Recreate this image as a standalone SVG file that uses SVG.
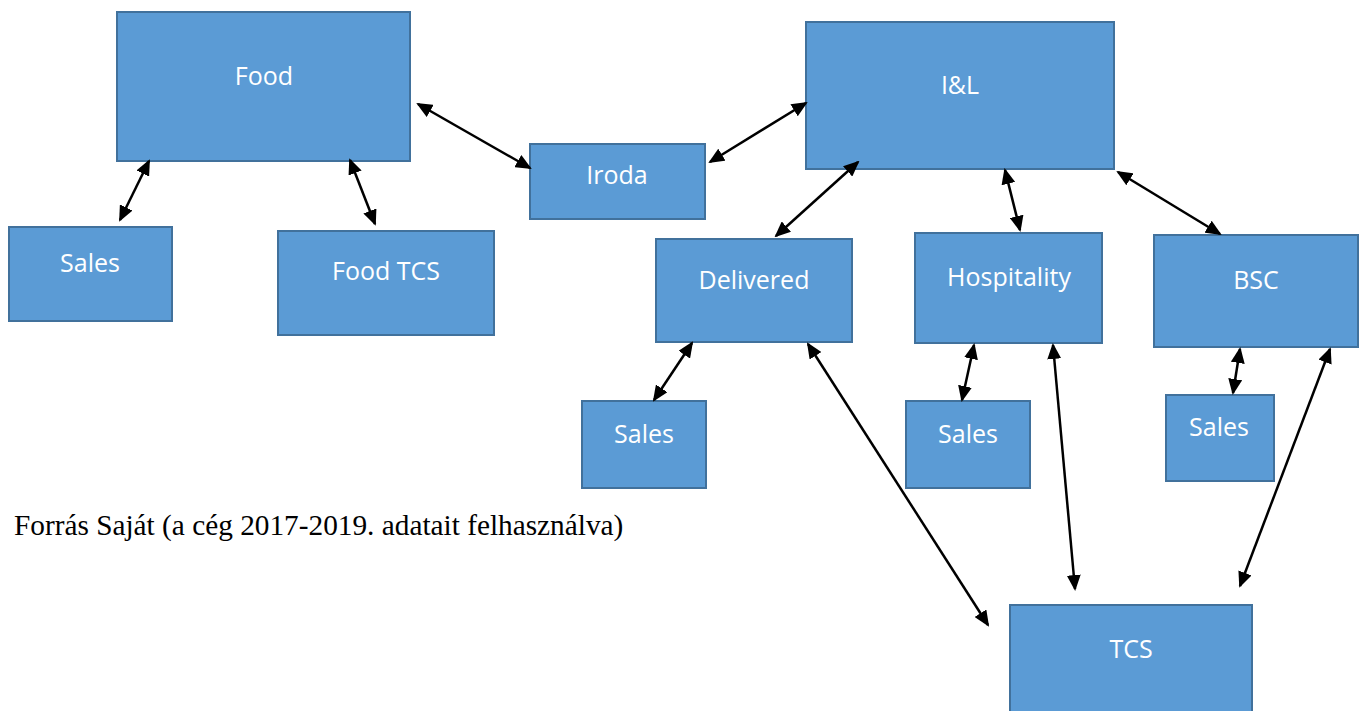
<svg xmlns="http://www.w3.org/2000/svg" width="1366" height="711" viewBox="0 0 1366 711">
<style>
.box{fill:#5b9bd5;stroke:#41719c;stroke-width:2}
.lbl{font-family:"Open Sans",Lato,sans-serif;font-size:25px;fill:#fff;text-anchor:middle}
.con line{stroke:#000;stroke-width:2.5;marker-start:url(#ah);marker-end:url(#ah)}
.src{font-family:"Liberation Serif",serif;font-size:29.3px;fill:#000}
</style>
<defs>
<marker id="ah" viewBox="0 0 16 14" refX="14" refY="7" markerWidth="16" markerHeight="14" markerUnits="userSpaceOnUse" orient="auto-start-reverse">
<path d="M0,0 L16,7 L0,14 z" fill="#000"/>
</marker>
</defs>
<rect width="1366" height="711" fill="#fff"/>
<g id="food"><rect class="box" x="117" y="12" width="293" height="149"/><text class="lbl" x="264" y="85">Food</text></g>
<g id="iroda"><rect class="box" x="530" y="144" width="175" height="75"/><text class="lbl" x="617" y="184">Iroda</text></g>
<g id="il"><rect class="box" x="806" y="22" width="308" height="147"/><text class="lbl" x="960" y="94">I&amp;L</text></g>
<g id="sales1"><rect class="box" x="9" y="227" width="163" height="94"/><text class="lbl" x="90" y="272">Sales</text></g>
<g id="foodtcs"><rect class="box" x="278" y="231" width="216" height="104"/><text class="lbl" x="386" y="280">Food TCS</text></g>
<g id="delivered"><rect class="box" x="656" y="239" width="196" height="103"/><text class="lbl" x="754" y="289">Delivered</text></g>
<g id="hospitality"><rect class="box" x="915" y="233" width="187" height="110"/><text class="lbl" x="1009" y="286">Hospitality</text></g>
<g id="bsc"><rect class="box" x="1154" y="235" width="204" height="112"/><text class="lbl" x="1256" y="289">BSC</text></g>
<g id="sales2"><rect class="box" x="582" y="401" width="124" height="87"/><text class="lbl" x="644" y="443">Sales</text></g>
<g id="sales3"><rect class="box" x="906" y="401" width="124" height="87"/><text class="lbl" x="968" y="443">Sales</text></g>
<g id="sales4"><rect class="box" x="1166" y="395" width="108" height="86"/><text class="lbl" x="1219" y="436">Sales</text></g>
<g id="tcs"><rect class="box" x="1010" y="605" width="242" height="110"/><text class="lbl" x="1131" y="658">TCS</text></g>
<g id="connectors" class="con">
<line x1="149" y1="161" x2="120" y2="220"/>
<line x1="350" y1="160" x2="375" y2="224"/>
<line x1="418" y1="104" x2="530" y2="168"/>
<line x1="710" y1="162" x2="806" y2="103"/>
<line x1="858" y1="162" x2="776" y2="236"/>
<line x1="1005" y1="170" x2="1020" y2="230"/>
<line x1="1118" y1="172" x2="1220" y2="234"/>
<line x1="692" y1="343" x2="654" y2="400"/>
<line x1="808" y1="344" x2="988" y2="625"/>
<line x1="974" y1="345" x2="962" y2="400"/>
<line x1="1053" y1="345" x2="1075" y2="589"/>
<line x1="1240" y1="349" x2="1233" y2="393"/>
<line x1="1330" y1="349" x2="1240" y2="586"/>
</g>
<text class="src" x="14" y="535">Forrás Saját (a cég 2017-2019. adatait felhasználva)</text>
</svg>
